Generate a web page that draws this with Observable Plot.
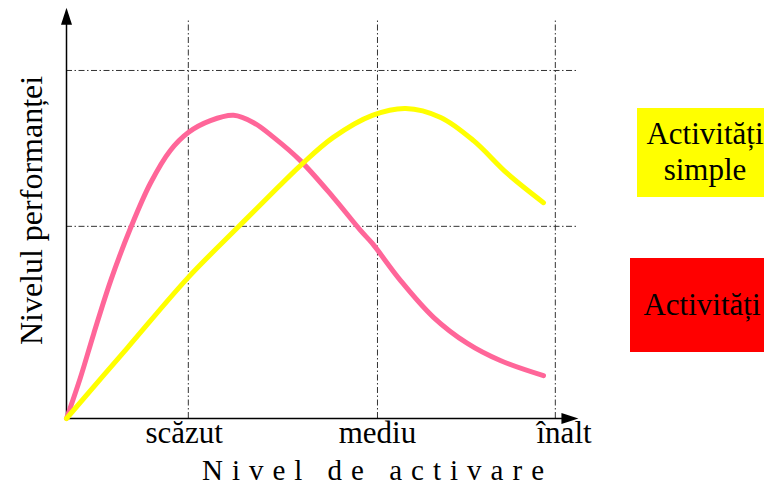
<!DOCTYPE html>
<html>
<head>
<meta charset="utf-8">
<script src="https://cdn.jsdelivr.net/npm/d3@7"></script>
<script src="https://cdn.jsdelivr.net/npm/@observablehq/plot@0.6"></script>
<style>
  html, body { margin: 0; padding: 0; background: #fff; }
  #wrap { position: relative; width: 764px; height: 484px; overflow: hidden; background: #fff; font-family: "Liberation Serif", "DejaVu Serif", serif; }
  #wrap svg { position: absolute; left: 0; top: 0; }
  .box { position: absolute; text-align: center; font-size: 31px; line-height: 36px; color: #000; box-sizing: border-box; }
</style>
</head>
<body>
<div id="wrap"></div>
<script>
// ---- data (x and y on 0–100 scales) ----
const pinkX = [0, 2.7, 5.3, 8.6, 12.5, 16.3, 20.2, 23.7, 28.0, 32.5, 36.4, 40.3, 45.5, 51.9, 57.2, 59.5, 65.0, 71.4, 78.0, 84.4, 92.8];
const pinkY = [0, 10.0, 20.8, 33.8, 46.8, 57.6, 65.7, 70.1, 73.0, 74.3, 72.5, 68.9, 63.2, 54.2, 46.1, 42.9, 33.8, 24.8, 18.4, 14.2, 10.5];
const yellowX = [0, 11.9, 23.7, 33.3, 41.1, 45.5, 51.9, 59.5, 66.0, 72.8, 79.2, 85.8, 92.8];
const yellowY = [0, 17.4, 34.6, 46.8, 56.6, 62.0, 68.9, 74.3, 76.0, 73.8, 68.1, 60.0, 52.9];
const tickLabels = ["scăzut", "mediu", "înalt"];
const tickLabelX = [22.9, 60.5, 96.8];
const gridX = [23.7, 60.5, 95.1];
const gridY = [47.1, 85.3];
const xTitle = "Nivel de activare";
const yTitle = "Nivelul performanței";
const legendLabels = [["Activități", "simple"], ["Activități"]];
const legendColors = ["#ffff00", "#ff0000"];

const pink = pinkX.map((x, i) => ({x, y: pinkY[i]}));
const yellow = yellowX.map((x, i) => ({x, y: yellowY[i]}));
const labelOf = new Map(tickLabelX.map((v, i) => [v, tickLabels[i]]));

const arrowHead = {
  draw(ctx) { ctx.moveTo(0, 0); ctx.lineTo(5.5, 17); ctx.lineTo(-5.5, 17); ctx.closePath(); }
};
const dash = "6,2.5,1.5,2.5";
const serif = "'Liberation Serif', 'DejaVu Serif', serif";

const chart = Plot.plot({
  width: 764,
  height: 484,
  marginLeft: 66,
  marginRight: 184,
  marginTop: 10,
  marginBottom: 66,
  style: {fontFamily: serif, background: "transparent", color: "#000"},
  x: {domain: [0, 100], axis: null},
  y: {domain: [0, 100], axis: null},
  marks: [
    Plot.ruleX(gridX, {y1: 0, y2: 97.5, stroke: "#333", strokeWidth: 1, strokeDasharray: dash}),
    Plot.ruleY(gridY, {x1: 0, x2: 99.6, stroke: "#333", strokeWidth: 1, strokeDasharray: dash}),
    Plot.ruleY([0], {x1: 0, x2: 97, stroke: "#000", strokeWidth: 1.5}),
    Plot.ruleX([0], {y1: 0, y2: 97, stroke: "#000", strokeWidth: 1.5}),
    Plot.dot([{x: 0, y: 100.7}], {x: "x", y: "y", symbol: arrowHead, r: 5, fill: "#000", stroke: "none"}),
    Plot.dot([{x: 99.6, y: 0}], {x: "x", y: "y", symbol: arrowHead, r: 5, fill: "#000", stroke: "none", rotate: 90}),
    Plot.line(pink, {x: "x", y: "y", curve: "catmull-rom", stroke: "#ff6699", strokeWidth: 5}),
    Plot.line(yellow, {x: "x", y: "y", curve: "catmull-rom", stroke: "#ffff00", strokeWidth: 5}),
    Plot.axisX(tickLabelX, {tickSize: 0, tickPadding: 2, fontSize: 31, fontFamily: serif, fill: "#000",
      tickFormat: (d) => labelOf.get(d), label: null}),
    Plot.text([xTitle], {x: () => 60.5, frameAnchor: "bottom", dy: 61, lineAnchor: "bottom", textAnchor: "middle",
      fontSize: 29, fontFamily: serif, fill: "#000"}),
    Plot.text([yTitle], {frameAnchor: "left", dx: -25, dy: -4, rotate: -90, lineAnchor: "bottom", textAnchor: "middle",
      fontSize: 32, fontFamily: serif, fill: "#000"})
  ]
});

// widen the letter spacing of the x-axis title, as in the reference
d3.select(chart).selectAll("text")
  .filter(function () { return this.textContent === xTitle; })
  .style("letter-spacing", "9px");

const wrap = document.getElementById("wrap");
wrap.appendChild(chart);

// legend boxes (HTML, beside the chart)
const boxes = [
  {left: 637, top: 108, width: 136, height: 89, pad: 7.5},
  {left: 630, top: 258, width: 144, height: 94, pad: 28.5}
];
boxes.forEach((b, i) => {
  const div = document.createElement("div");
  div.className = "box";
  Object.assign(div.style, {left: b.left + "px", top: b.top + "px", width: b.width + "px", height: b.height + "px",
    paddingTop: b.pad + "px", background: legendColors[i]});
  div.innerHTML = legendLabels[i].join("<br>");
  wrap.appendChild(div);
});
</script>
</body>
</html>
